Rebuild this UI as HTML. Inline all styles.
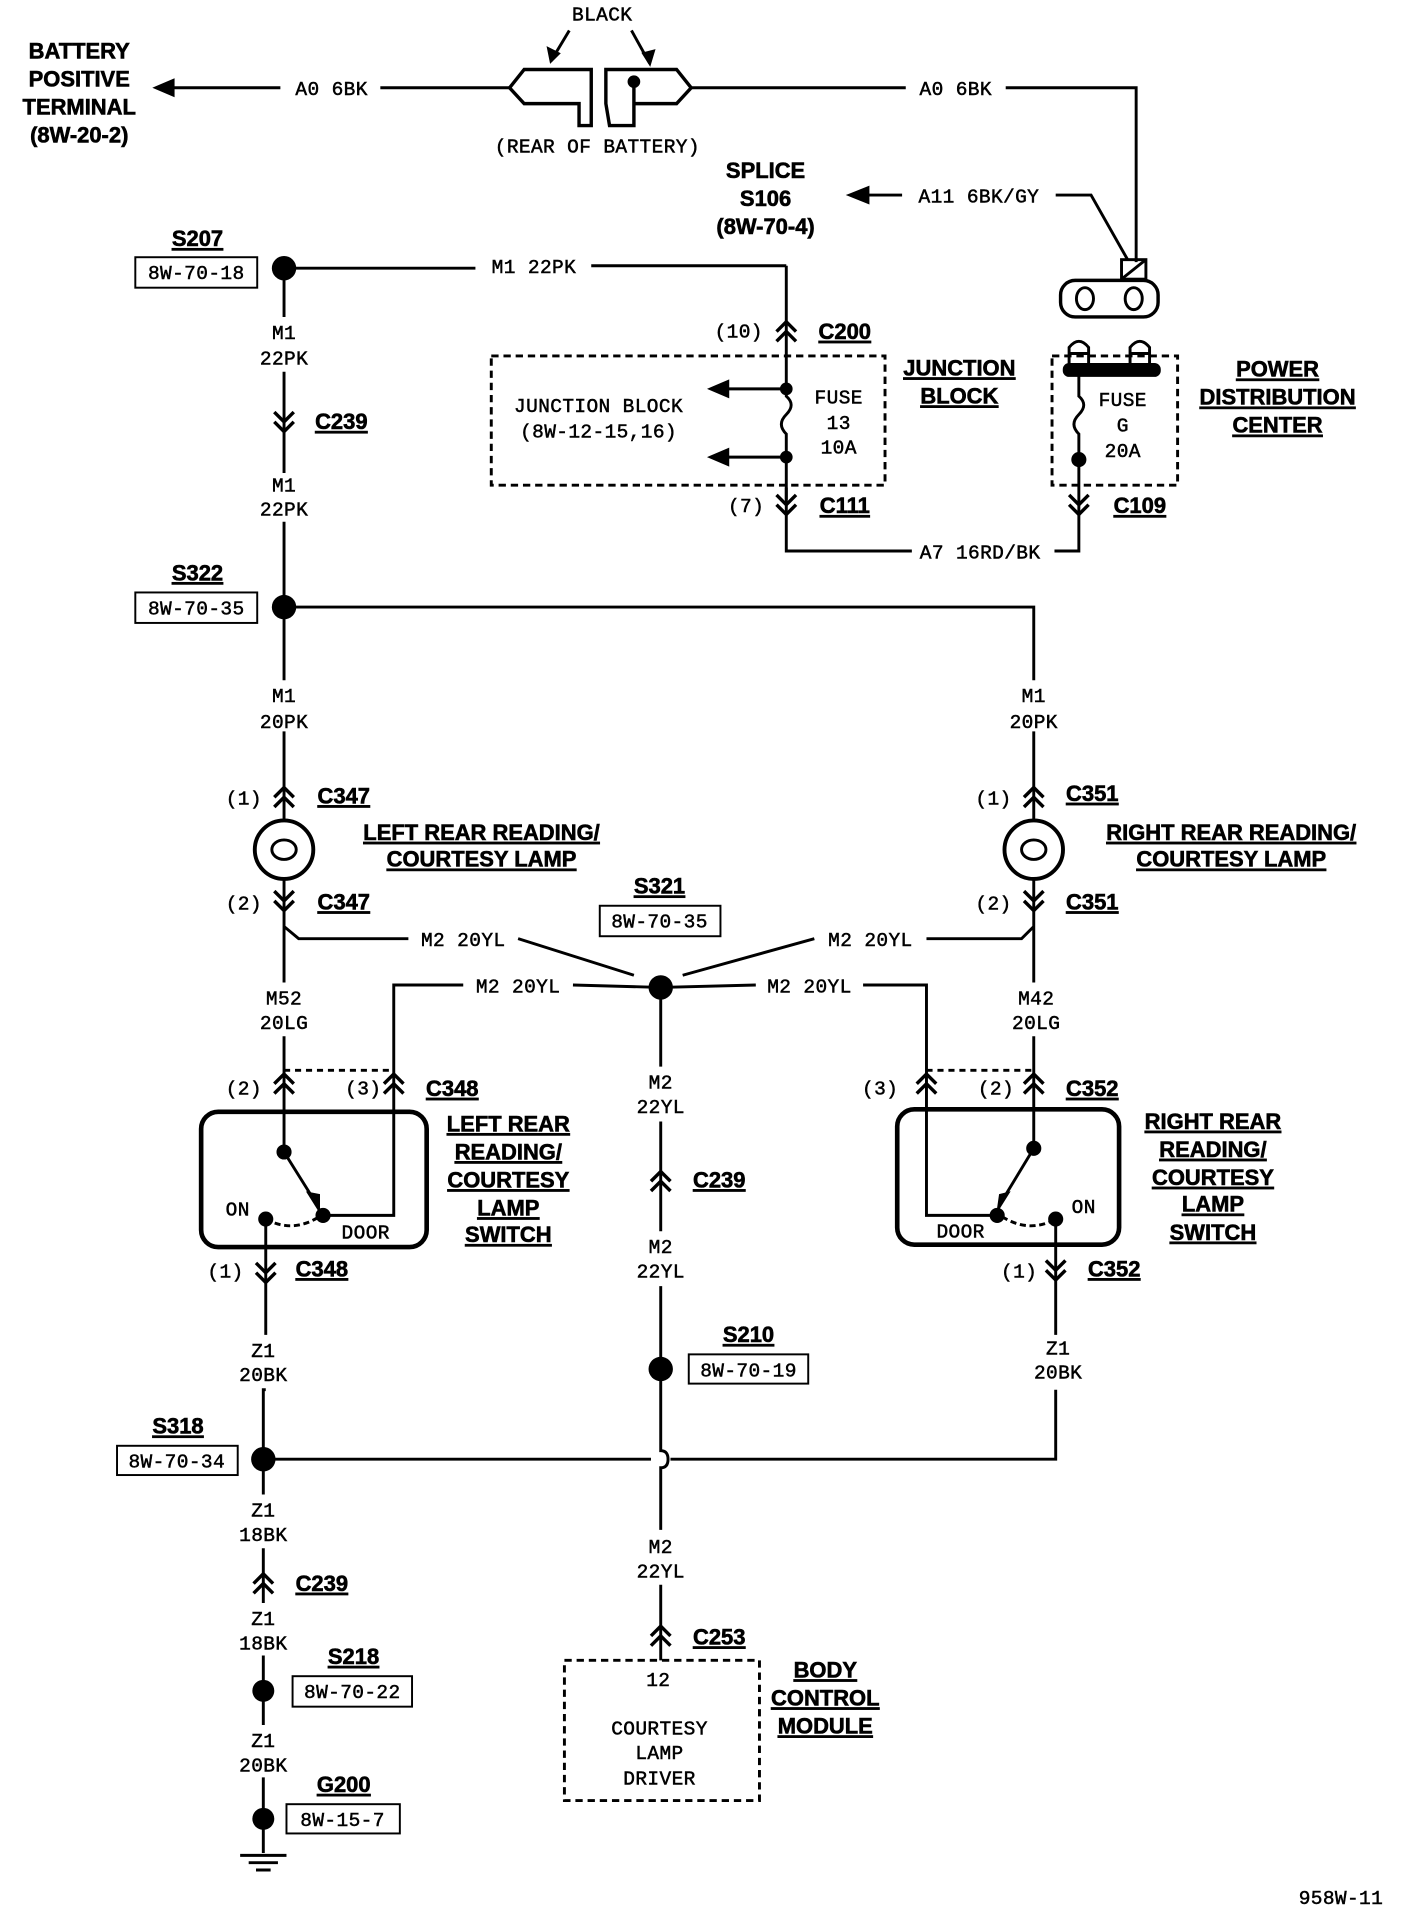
<!DOCTYPE html>
<html><head><meta charset="utf-8"><style>
html,body{margin:0;padding:0;background:#fff;}
svg{display:block}
.t{font-family:"Liberation Mono",monospace;font-size:16px;fill:#000;stroke:#000;stroke-width:0.4;text-anchor:middle;letter-spacing:0.3px}
.b{font-family:"Liberation Sans",sans-serif;font-weight:bold;font-size:18px;fill:#000;stroke:#000;stroke-width:0.5;text-anchor:middle}
.u{text-decoration:underline}
</style></head><body>
<svg width="1408" height="1920" viewBox="0 0 1155 1575" xmlns="http://www.w3.org/2000/svg">
<defs>
<g id="cu"><path d="M-8,4 L0,-4 L8,4 M-8,12 L0,4 L8,12" fill="none" stroke="#000" stroke-width="2.8"/></g>
<g id="cd"><path d="M-8,-4 L0,4 L8,-4 M-8,-12 L0,-4 L8,-12" fill="none" stroke="#000" stroke-width="2.8"/></g>
</defs>
<g stroke="#000" stroke-width="2.4" fill="none">
<path d="M135,72 L230,72 M312,72 L418,72"/>
<path d="M128,72 L142,66 L142,78 Z" fill="#000"/>
<path d="M418,72 L430,57 L485,57 L485,103 L475,103 L475,85 L430,85 Z" stroke-width="2.8"/>
<path d="M497,57 L555,57 L567,72 L555,85 L520,85 L520,103 L500,103 L497,85 Z M520,67 L520,85" stroke-width="2.8"/>
<circle cx="520" cy="67" r="4" fill="#000"/>
<path d="M467,25 L452,50 M518,25 L533,52"/>
<path d="M452,50 L450,40 L458,44 Z M533,52 L528,44 L536,42 Z" fill="#000"/>
<path d="M567,72 L743,72 M825,72 L932,72 L932,215"/>
<path d="M704,160 L740,160 M866,160 L895,160 L925,213"/>
<path d="M697,160 L712,154 L712,166 Z" fill="#000"/>
<rect x="920" y="213" width="20" height="16"/><path d="M920,229 L940,213"/>
<rect x="870" y="230" width="80" height="30" rx="12" stroke-width="2.8"/>
<ellipse cx="890" cy="245" rx="7" ry="9"/><ellipse cx="930" cy="245" rx="7" ry="9"/>
<path d="M877,303 L877,285 Q885,275 893,285 L893,303 M927,303 L927,285 Q935,275 943,285 L943,303 M877,290 L893,290 M927,290 L943,290"/>
<rect x="873" y="299" width="78" height="9" rx="4" fill="#000"/>
<rect x="863" y="292" width="103" height="106" stroke-dasharray="6,4"/>
<path d="M885,308 L885,325 Q893,332 885,340 Q877,348 885,356 L885,372 L885,452 L865,452 M748,452 L645,452 L645,400"/>
<circle cx="885" cy="377" r="5" fill="#000"/>
<rect x="403" y="292" width="323" height="106" stroke-dasharray="6,4"/>
<path d="M645,218 L645,325 Q653,332 645,340 Q637,348 645,356 L645,410"/>
<circle cx="645" cy="319" r="4" fill="#000"/><circle cx="645" cy="375" r="4" fill="#000"/>
<path d="M645,319 L590,319 M645,375 L590,375"/>
<path d="M583,319 L597,313 L597,325 Z M583,375 L597,369 L597,381 Z" fill="#000"/>
<path d="M233,220 L390,220 M485,218 L645,218"/>
<path d="M233,220 L233,260 M233,305 L233,388 M233,428 L233,558 M233,600 L233,673 M233,721 L233,760 L245,770 L335,770 M425,770 L520,800 M233,752 L233,806 M233,850 L233,945"/>
<path d="M233,498 L848,498 L848,558 M848,600 L848,673 M848,721 L848,760 L838,770 L760,770 M668,770 L560,800 M848,752 L848,806 M848,850 L848,942"/>
<path d="M542,810 L470,808 M380,808 L323,808 L323,997 L265,997 M542,810 L620,808 M708,808 L760,808 L760,997 L818,997"/>
<path d="M542,810 L542,875 M542,920 L542,1010 M542,1055 L542,1190 Q548,1190 548,1197 Q548,1204 542,1204 L542,1255 M542,1300 L542,1362"/>
<path d="M233,878 L323,878 M760,878 L848,878" stroke-dasharray="5,4"/>
<rect x="165" y="912" width="185" height="111" rx="14" stroke-width="3.8"/>
<rect x="736" y="910" width="182" height="111" rx="14" stroke-width="3.8"/>
<path d="M233,945 L258,985 M848,942 L822,985"/>
<path d="M262,994 L252,978 L262,980 Z M818,994 L828,978 L820,980 Z" fill="#000" stroke-width="1"/>
<path d="M218,1000 Q240,1012 262,998 M822,998 Q844,1012 866,1000" stroke-dasharray="5,3"/>
<circle cx="233" cy="945" r="5" fill="#000"/><circle cx="265" cy="997" r="5" fill="#000"/><circle cx="218" cy="1000" r="5" fill="#000"/>
<circle cx="848" cy="942" r="5" fill="#000"/><circle cx="818" cy="997" r="5" fill="#000"/><circle cx="866" cy="1000" r="5" fill="#000"/>
<path d="M218,1000 L218,1095 M218,1140 L216,1140 L216,1226 M216,1270 L216,1315 M216,1358 L216,1415 M216,1458 L216,1520"/>
<path d="M866,1000 L866,1095 M866,1140 L866,1197 L550,1197 M534,1197 L216,1197"/>
<path d="M197,1522 L235,1522 M204,1528 L228,1528 M210,1534 L222,1534"/>
<circle cx="233" cy="697" r="24" stroke-width="3.2"/><ellipse cx="233" cy="697" rx="10" ry="8"/>
<circle cx="848" cy="697" r="24" stroke-width="3.2"/><ellipse cx="848" cy="697" rx="10" ry="8"/>
<rect x="463" y="1362" width="160" height="115" stroke-dasharray="6,4"/>
<g stroke-width="1.6">
<rect x="111" y="211" width="100" height="25"/>
<rect x="111" y="486" width="100" height="25"/>
<rect x="492" y="743" width="99" height="25"/>
<rect x="565" y="1111" width="98" height="24"/>
<rect x="96" y="1186" width="99" height="24"/>
<rect x="240" y="1375" width="98" height="25"/>
<rect x="235" y="1480" width="93" height="24"/>
</g>
</g>
<g fill="#000">
<circle cx="233" cy="220" r="10"/><circle cx="233" cy="498" r="10"/><circle cx="542" cy="810" r="10"/>
<circle cx="542" cy="1123" r="10"/><circle cx="216" cy="1197" r="10"/><circle cx="216" cy="1387" r="9"/><circle cx="216" cy="1492" r="9"/>
</g>
<use href="#cd" x="233" y="350"/><use href="#cu" x="645" y="268"/><use href="#cd" x="645" y="418"/><use href="#cd" x="885" y="418"/>
<use href="#cu" x="233" y="650"/><use href="#cd" x="233" y="743"/><use href="#cu" x="848" y="650"/><use href="#cd" x="848" y="743"/>
<use href="#cu" x="233" y="885"/><use href="#cu" x="323" y="885"/><use href="#cu" x="760" y="885"/><use href="#cu" x="848" y="885"/>
<use href="#cd" x="218" y="1048"/><use href="#cd" x="866" y="1046"/><use href="#cu" x="542" y="965"/><use href="#cu" x="216" y="1295"/><use href="#cu" x="542" y="1338"/>
<g class="b">
<text x="65" y="48">BATTERY</text><text x="65" y="71">POSITIVE</text><text x="65" y="94">TERMINAL</text><text x="65" y="117">(8W-20-2)</text>
<text x="628" y="146">SPLICE</text><text x="628" y="169">S106</text><text x="628" y="192">(8W-70-4)</text>
<text x="787" y="308" class="u">JUNCTION</text><text x="787" y="331" class="u">BLOCK</text>
<text x="1048" y="309" class="u">POWER</text><text x="1048" y="332" class="u">DISTRIBUTION</text><text x="1048" y="355" class="u">CENTER</text>
<text x="162" y="202" class="u">S207</text><text x="162" y="476" class="u">S322</text><text x="541" y="733" class="u">S321</text>
<text x="614" y="1101" class="u">S210</text><text x="146" y="1176" class="u">S318</text><text x="290" y="1365" class="u">S218</text><text x="282" y="1470" class="u">G200</text>
<text x="693" y="278" class="u">C200</text><text x="693" y="421" class="u">C111</text><text x="935" y="421" class="u">C109</text>
<text x="280" y="352" class="u">C239</text><text x="282" y="659" class="u">C347</text><text x="282" y="746" class="u">C347</text>
<text x="896" y="657" class="u">C351</text><text x="896" y="746" class="u">C351</text>
<text x="371" y="899" class="u">C348</text><text x="896" y="899" class="u">C352</text><text x="264" y="1047" class="u">C348</text><text x="914" y="1047" class="u">C352</text>
<text x="590" y="974" class="u">C239</text><text x="264" y="1305" class="u">C239</text><text x="590" y="1349" class="u">C253</text>
<text x="395" y="689" class="u">LEFT REAR READING/</text><text x="395" y="711" class="u">COURTESY LAMP</text>
<text x="1010" y="689" class="u">RIGHT REAR READING/</text><text x="1010" y="711" class="u">COURTESY LAMP</text>
<text x="417" y="928" class="u">LEFT REAR</text><text x="417" y="951" class="u">READING/</text><text x="417" y="974" class="u">COURTESY</text><text x="417" y="997" class="u">LAMP</text><text x="417" y="1019" class="u">SWITCH</text>
<text x="995" y="926" class="u">RIGHT REAR</text><text x="995" y="949" class="u">READING/</text><text x="995" y="972" class="u">COURTESY</text><text x="995" y="994" class="u">LAMP</text><text x="995" y="1017" class="u">SWITCH</text>
<text x="677" y="1376" class="u">BODY</text><text x="677" y="1399" class="u">CONTROL</text><text x="677" y="1422" class="u">MODULE</text>
</g>
<g class="t">
<text x="494" y="17">BLACK</text><text x="490" y="125">(REAR OF BATTERY)</text>
<text x="272" y="78">A0 6BK</text><text x="784" y="78">A0 6BK</text><text x="803" y="166">A11 6BK/GY</text>
<text x="438" y="224">M1 22PK</text><text x="804" y="458">A7 16RD/BK</text>
<text x="606" y="277">(10)</text><text x="612" y="420">(7)</text>
<text x="491" y="338">JUNCTION BLOCK</text><text x="491" y="359">(8W-12-15,16)</text>
<text x="688" y="331">FUSE</text><text x="688" y="352">13</text><text x="688" y="372">10A</text>
<text x="921" y="333">FUSE</text><text x="921" y="354">G</text><text x="921" y="375">20A</text>
<text x="161" y="229">8W-70-18</text><text x="161" y="504">8W-70-35</text><text x="541" y="761">8W-70-35</text>
<text x="614" y="1129">8W-70-19</text><text x="145" y="1204">8W-70-34</text><text x="289" y="1393">8W-70-22</text><text x="281" y="1498">8W-15-7</text>
<text x="233" y="278">M1</text><text x="233" y="299">22PK</text><text x="233" y="403">M1</text><text x="233" y="423">22PK</text>
<text x="233" y="576">M1</text><text x="233" y="597">20PK</text><text x="848" y="576">M1</text><text x="848" y="597">20PK</text>
<text x="200" y="660">(1)</text><text x="200" y="746">(2)</text><text x="815" y="660">(1)</text><text x="815" y="746">(2)</text>
<text x="380" y="776">M2 20YL</text><text x="714" y="776">M2 20YL</text><text x="425" y="814">M2 20YL</text><text x="664" y="814">M2 20YL</text>
<text x="233" y="824">M52</text><text x="233" y="844">20LG</text><text x="850" y="824">M42</text><text x="850" y="844">20LG</text>
<text x="200" y="898">(2)</text><text x="298" y="898">(3)</text><text x="722" y="898">(3)</text><text x="817" y="898">(2)</text>
<text x="195" y="997">ON</text><text x="300" y="1016">DOOR</text><text x="889" y="995">ON</text><text x="788" y="1015">DOOR</text>
<text x="185" y="1048">(1)</text><text x="836" y="1048">(1)</text>
<text x="542" y="893">M2</text><text x="542" y="913">22YL</text><text x="542" y="1028">M2</text><text x="542" y="1048">22YL</text>
<text x="216" y="1113">Z1</text><text x="216" y="1133">20BK</text><text x="868" y="1111">Z1</text><text x="868" y="1131">20BK</text>
<text x="216" y="1244">Z1</text><text x="216" y="1264">18BK</text><text x="216" y="1333">Z1</text><text x="216" y="1353">18BK</text>
<text x="216" y="1433">Z1</text><text x="216" y="1453">20BK</text>
<text x="542" y="1274">M2</text><text x="542" y="1294">22YL</text>
<text x="540" y="1383">12</text><text x="541" y="1423">COURTESY</text><text x="541" y="1443">LAMP</text><text x="541" y="1464">DRIVER</text>
<text x="1100" y="1562">958W-11</text>
</g>
</svg>
</body></html>
